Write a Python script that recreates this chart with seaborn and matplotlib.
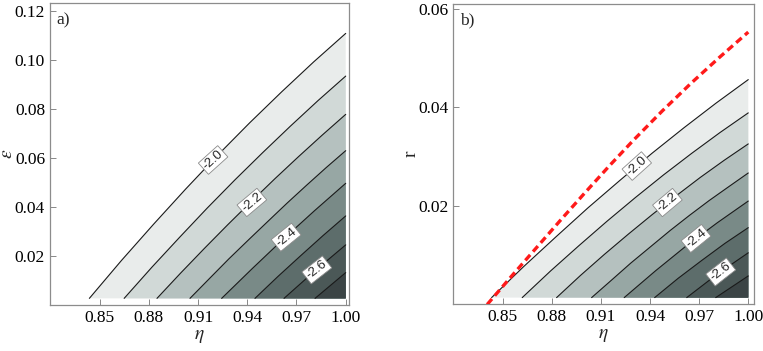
import matplotlib
matplotlib.use("Agg")
import matplotlib.pyplot as plt
import seaborn as sns

# ---------------- data ----------------
levels = [-2.0, -2.1, -2.2, -2.3, -2.4, -2.5, -2.6, -2.7]
band_colors = ["#e9eceb", "#d1d9d7", "#b5c1bf", "#97a7a4", "#798a87",
               "#5d6d6b", "#4b5857", "#3b4445"]

# panel a) : contour lines in (eta, epsilon)
a_eta = [
    [0.8438, 0.8633, 0.8829, 0.9024, 0.9219, 0.9414, 0.9610, 0.9805, 1.0],
    [0.8650, 0.8819, 0.8988, 0.9156, 0.9325, 0.9494, 0.9663, 0.9831, 1.0],
    [0.8850, 0.8994, 0.9138, 0.9281, 0.9425, 0.9569, 0.9713, 0.9856, 1.0],
    [0.9051, 0.9170, 0.9288, 0.9407, 0.9526, 0.9644, 0.9763, 0.9881, 1.0],
    [0.9244, 0.9433, 0.9622, 0.9811, 1.0],
    [0.9447, 0.9585, 0.9724, 0.9862, 1.0],
    [0.9624, 0.9812, 1.0],
    [0.9813, 1.0],
]
a_eps = [
    [0.0027, 0.0181, 0.0329, 0.0472, 0.0610, 0.0742, 0.0869, 0.0991, 0.1107],
    [0.0027, 0.0154, 0.0276, 0.0395, 0.0510, 0.0621, 0.0729, 0.0833, 0.0933],
    [0.0027, 0.0130, 0.0230, 0.0327, 0.0422, 0.0515, 0.0605, 0.0692, 0.0777],
    [0.0027, 0.0108, 0.0188, 0.0265, 0.0341, 0.0416, 0.0489, 0.0560, 0.0629],
    [0.0027, 0.0150, 0.0270, 0.0385, 0.0496],
    [0.0027, 0.0115, 0.0200, 0.0283, 0.0363],
    [0.0027, 0.0139, 0.0245],
    [0.0027, 0.0132],
]
a_bottom = 0.0027

# panel b) : contour lines in (eta, r)
b_eta = [
    [0.8432, 0.8628, 0.8824, 0.9020, 0.9216, 0.9412, 0.9608, 0.9804, 1.0],
    [0.8619, 0.8792, 0.8964, 0.9137, 0.9310, 0.9482, 0.9655, 0.9827, 1.0],
    [0.8829, 0.8975, 0.9122, 0.9268, 0.9415, 0.9561, 0.9707, 0.9854, 1.0],
    [0.9043, 0.9163, 0.9282, 0.9402, 0.9522, 0.9641, 0.9761, 0.9880, 1.0],
    [0.9242, 0.9432, 0.9621, 0.9811, 1.0],
    [0.9428, 0.9571, 0.9714, 0.9857, 1.0],
    [0.9624, 0.9812, 1.0],
    [0.9801, 1.0],
]
b_r = [
    [0.0014, 0.0077, 0.0137, 0.0196, 0.0252, 0.0307, 0.0359, 0.0409, 0.04565],
    [0.0014, 0.0068, 0.0119, 0.0169, 0.0217, 0.0263, 0.0307, 0.0349, 0.0389],
    [0.0014, 0.0059, 0.0102, 0.0143, 0.0183, 0.0221, 0.0258, 0.0293, 0.0326],
    [0.0014, 0.0049, 0.0084, 0.0117, 0.0150, 0.0181, 0.0211, 0.0239, 0.0267],
    [0.0014, 0.0068, 0.0119, 0.0166, 0.0210],
    [0.0014, 0.0053, 0.0089, 0.0124, 0.0156],
    [0.0014, 0.0062, 0.0105],
    [0.0014, 0.0058],
]
b_bottom = 0.0014

# red dashed boundary in panel b)
red_eta = [0.8405, 0.855, 0.870, 0.885, 0.900, 0.915, 0.930, 0.9475,
           0.965, 0.9825, 1.0]
red_r = [0.0, 0.0056, 0.0113, 0.0170, 0.0226, 0.0281, 0.0334, 0.0393,
         0.0449, 0.0502, 0.0553]

# contour labels
label_text = ["-2.0", "-2.2", "-2.4", "-2.6"]
a_label_eta = [0.9192, 0.9428, 0.9637, 0.9824]
a_label_eps = [0.0591, 0.0418, 0.0276, 0.0143]
b_label_eta = [0.9319, 0.9506, 0.9681, 0.9832]
b_label_r = [0.0281, 0.0207, 0.0134, 0.0066]
label_rot = [42, 40, 39, 38]

x_ticks = [0.85, 0.88, 0.91, 0.94, 0.97, 1.00]
a_yticks = [0.02, 0.04, 0.06, 0.08, 0.10, 0.12]
b_yticks = [0.02, 0.04, 0.06]

# ---------------- style ----------------
sns.set_theme(style="white")
plt.rcParams["font.family"] = ["Liberation Serif", "DejaVu Serif"]
plt.rcParams["mathtext.fontset"] = "stix"

fig = plt.figure(figsize=(7.63, 3.51), dpi=100)
ax_a = fig.add_axes([0.0655, 0.1311, 0.3919, 0.8590])
ax_b = fig.add_axes([0.5941, 0.1325, 0.3941, 0.8561])


def draw_panel(ax, etas, vals, bottom, lab_x, lab_y):
    for k, (xs, ys) in enumerate(zip(etas, vals)):
        px = list(xs) + [1.0]
        py = list(ys) + [bottom]
        ax.fill(px, py, color=band_colors[k], lw=0, zorder=1)
    for xs, ys in zip(etas, vals):
        sns.lineplot(x=xs, y=ys, ax=ax, sort=False, estimator=None,
                     color="#1a1a1a", lw=0.8, zorder=3)
    for s, x, y, rot in zip(label_text, lab_x, lab_y, label_rot):
        ax.text(x, y, s, rotation=rot, ha="center", va="center",
                rotation_mode="anchor", fontsize=9.5,
                family=["Liberation Sans", "DejaVu Sans"], zorder=6,
                bbox=dict(boxstyle="square,pad=0.12", fc="white",
                          ec="#8a8a8a", lw=0.6))


def style_axes(ax, yticks, xlim, ylim, ylabel, tag):
    ax.set_xlim(*xlim)
    ax.set_ylim(*ylim)
    ax.set_xticks(x_ticks)
    ax.set_xticklabels([f"{t:.2f}" for t in x_ticks])
    ax.set_yticks(yticks)
    ax.set_yticklabels([f"{t:.2f}" for t in yticks])
    ax.tick_params(direction="in", length=4, width=0.7, color="#888888",
                   labelsize=12.5, labelcolor="black", pad=3.5,
                   bottom=True, left=True, top=False, right=False)
    for sp in ax.spines.values():
        sp.set_color("#8c8c8c")
        sp.set_linewidth(0.9)
    ax.set_xlabel(r"$\eta$", fontsize=14)
    ax.set_ylabel(ylabel, fontsize=14)
    ax.xaxis.set_label_coords(0.5, -0.075)
    ax.yaxis.set_label_coords(-0.112, 0.5)
    ax.text(0.022, 0.944, tag, transform=ax.transAxes, fontsize=12.5,
            ha="left", va="center")


draw_panel(ax_a, a_eta, a_eps, a_bottom, a_label_eta, a_label_eps)
draw_panel(ax_b, b_eta, b_r, b_bottom, b_label_eta, b_label_r)

sns.lineplot(x=red_eta, y=red_r, ax=ax_b, sort=False, estimator=None,
             color="#ff1a1a", lw=2.4, zorder=4)
ax_b.lines[-1].set_dashes([2.2, 1.3])

style_axes(ax_a, a_yticks, (0.8198, 1.002), (0.0, 0.1229), r"$\epsilon$", "a)")
style_axes(ax_b, b_yticks, (0.8198, 1.0035), (0.0, 0.0610), "r", "b)")

fig.savefig("out.png", dpi=100)
